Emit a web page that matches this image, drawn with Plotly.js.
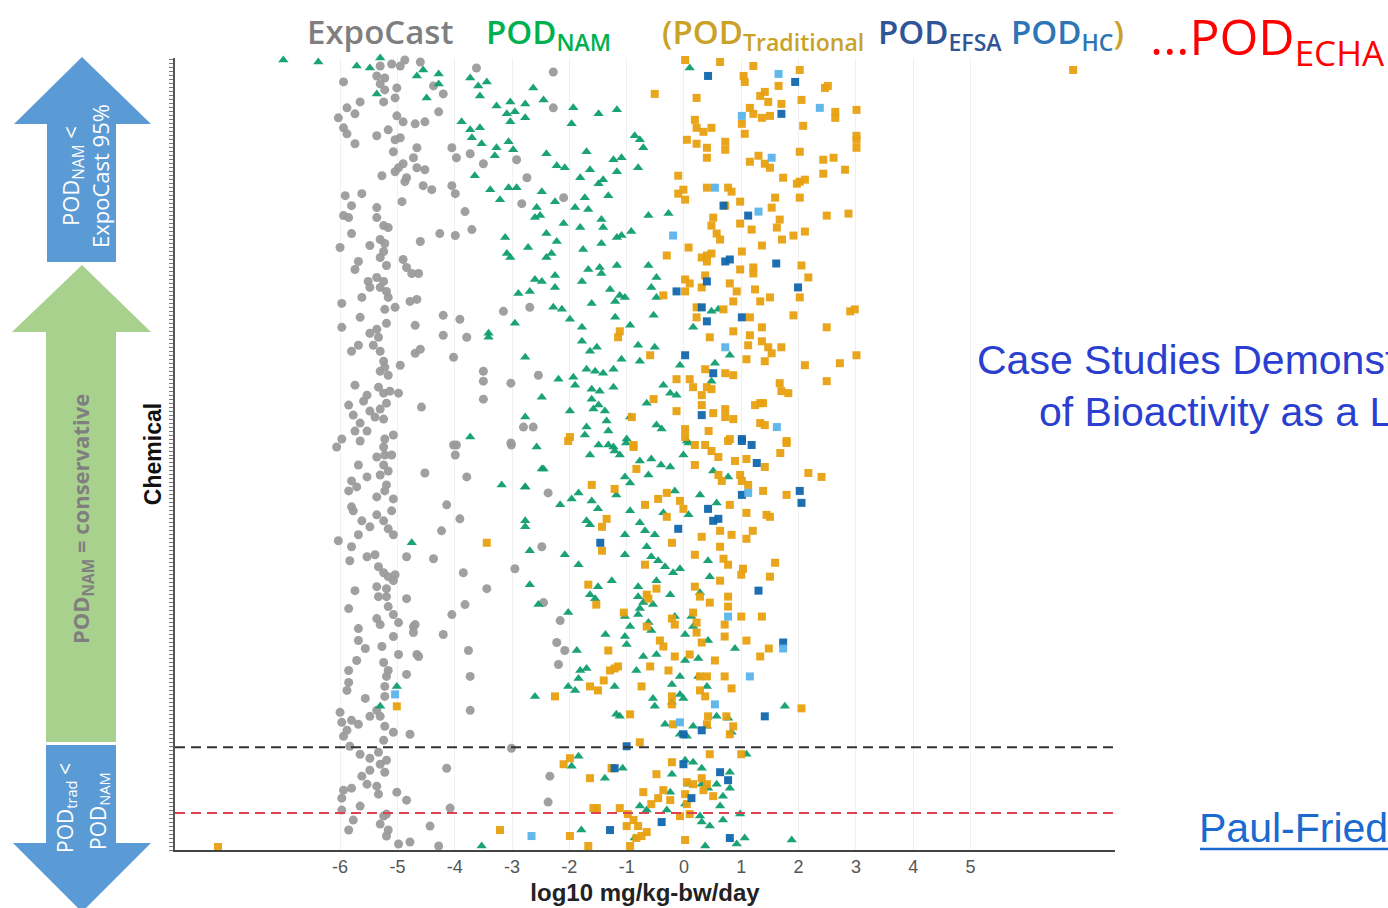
<!DOCTYPE html>
<html><head><meta charset="utf-8">
<script src="https://cdn.plot.ly/plotly-3.0.1.min.js"></script>
<style>html,body{margin:0;padding:0;background:#fff;overflow:hidden}</style>
</head><body><div id="chart" style="width:1388px;height:908px"></div>
<script>
// ---- data: [log10 mg/kg-bw/day, chemical rank] ----
const xTickVals = [-6,-5,-4,-3,-2,-1,0,1,2,3,4,5];
const xTickText = ['-6','-5','-4','-3','-2','-1','0','1','2','3','4','5'];
const dashBlackRank = 51.5;
const dashRedRank = 18.5;

const expoCast = [
[-5.30,393],[-5.10,394],[-4.95,393],[-4.87,396],[-4.60,395],[-3.62,392],[-2.28,390],[-5.94,385],[-5.36,388],[-5.22,387],[-5.30,384],[-5.01,382],[-4.37,383],[-4.20,379],[-5.22,381],[-5.04,377],[-5.24,375],[-5.65,375],[-5.88,372],[-5.74,369],[-6.03,367],[-5.01,368],[-4.90,365],[-4.69,364],[-4.52,365],[-4.28,370],[-5.94,362],[-5.88,359],[-5.36,358],[-5.16,361],[-5.04,356],[-4.95,357],[-5.74,354],[-4.66,352],[-4.05,352],[-3.97,347],[-3.73,349],[-3.50,344],[-2.92,346],[-5.07,350],[-4.72,347],[-4.90,344],[-4.98,342],[-5.27,338],[-5.04,340],[-4.84,337],[-4.66,342],[-4.52,341],[-4.87,335],[-4.55,333],[-4.40,331],[-4.05,333],[-3.99,329],[-2.74,337],[-2.28,372],[-2.10,327],[-2.83,324],[-5.91,328],[-5.80,323],[-5.62,329],[-5.36,322],[-4.92,325],[-5.94,318],[-5.85,317],[-5.36,317],[-5.24,313],[-5.16,312],[-3.82,320],[-4.26,309],[-3.99,308],[-3.70,311],[-4.60,305],[-5.80,309],[-6.00,302],[-5.48,303],[-5.30,306],[-5.22,304],[-5.24,300],[-5.30,297],[-5.19,293],[-5.68,295],[-5.74,291],[-4.90,296],[-4.84,292],[-4.75,289],[-4.63,289],[-5.51,285],[-5.36,287],[-5.24,285],[-5.30,282],[-5.19,280],[-5.16,277],[-5.48,282],[-5.62,277],[-5.97,274],[-5.04,272],[-5.22,271],[-4.78,275],[-4.66,276],[-4.20,268],[-3.91,266],[-3.15,270],[-2.69,272],[-5.65,267],[-5.97,262],[-5.36,261],[-5.19,264],[-5.48,259],[-5.33,257],[-4.69,263],[-4.20,258],[-3.79,257],[-5.68,253],[-5.80,250],[-5.42,253],[-5.30,250],[-4.69,249],[-4.60,251],[-5.24,245],[-5.30,240],[-5.22,242],[-5.16,238],[-4.95,243],[-4.02,247],[-3.50,240],[-3.50,235],[-3.02,234],[-2.54,238],[-5.74,233],[-5.33,232],[-5.53,228],[-5.24,229],[-5.13,230],[-4.98,229],[-5.85,223],[-5.59,225],[-5.19,224],[-4.58,222],[-3.50,226],[-5.77,218],[-5.48,220],[-5.30,221],[-5.39,217],[-5.24,216],[-5.65,214],[-5.53,210],[-5.74,210],[-5.97,206],[-5.65,205],[-5.22,206],[-5.07,208],[-3.97,203],[-3.02,204],[-2.80,212],[-2.63,212],[-6.06,202],[-5.24,202],
[-5.36,197],[-5.22,198],[-5.10,198],[-5.24,193],[-5.16,190],[-5.30,188],[-5.68,193],[-5.53,187],[-5.80,185],[-5.85,180],[-5.71,182],[-5.19,183],[-5.36,177],[-5.22,180],[-5.07,176],[-5.80,172],[-5.77,170],[-5.62,165],[-5.48,162],[-5.36,168],[-5.24,165],[-5.10,170],[-5.16,161],[-5.07,158],[-5.68,158],[-5.80,152],[-6.03,155],[-5.53,147],[-5.39,148],[-5.83,145],[-5.33,142],[-5.24,139],[-5.16,137],[-5.07,135],[-5.36,132],[-5.19,131],[-5.04,138],[-5.74,130],[-5.33,127],[-5.19,127],[-4.84,126],[-5.85,121],[-5.16,122],[-5.07,118],[-5.36,116],[-5.30,113],[-4.98,114],[-4.69,113],[-5.68,111],[-5.68,105],[-5.56,101],[-5.27,102],[-5.07,107],[-4.98,98],[-4.72,109],[-4.63,97],[-5.71,95],[-5.85,90],[-5.85,84],[-5.88,80],[-5.24,94],[-5.16,90],[-5.19,87],[-5.22,82],[-5.22,77],[-5.56,76],[-5.48,67],[-5.36,70],[-5.30,67],[-6.00,69],[-5.97,64],[-5.80,65],[-5.68,63],[-5.88,60],[-5.94,57],[-5.22,62],[-5.07,59],[-4.78,58],[-5.24,55],[-5.83,52],[-5.33,49],[-5.48,46],[-5.19,45],[-5.65,48],[-5.30,43],[-5.48,40],[-5.22,39],[-5.62,37],[-5.53,33],[-5.36,32],[-5.94,30],[-5.80,31],[-5.33,28],[-5.97,26],[-5.01,29],[-4.84,25],[-5.65,22],[-5.97,20],[-5.19,18],[-5.24,17],[-5.77,15],[-5.30,13],[-5.85,10],[-5.16,10],[-5.19,7],[-4.98,3],[-4.78,4],[-4.43,12],[-4.08,21],[-4.28,2],[-4.52,189],[-3.99,198],[-4.02,203],[-3.01,203],[-3.79,187],[-4.14,173],[-3.91,166],[-4.23,160],[-4.37,146],[-3.85,139],[-2.95,141],[-3.44,131],[-3.82,123],[-4.05,118],[-4.20,108],[-3.76,100],[-3.73,87],[-3.73,70],[-3.01,51],[-4.14,41],[-2.37,179],[-2.48,152],[-2.16,115],[-2.22,104],[-2.08,100],[-2.19,93],[-2.45,124],[-2.34,37],[-2.37,24],[-4.84,147],[-4.84,88],[-4.66,98],[-4.72,112]
];

const podNAM = [
[-6.99,396],[-6.38,395],[-5.71,393],[-5.48,392],[-5.30,397],
[-4.66,388],[-4.55,391],[-4.28,389],[-3.73,387],[-3.59,383],[-3.44,385],[-3.56,378],[-5.36,379],[-4.49,377],[-4.28,384],[-2.63,382],[-2.45,376],[-3.27,373],[-3.03,375],[-2.77,374],[-3.09,369],[-2.95,370],[-3.03,365],[-2.77,367],[-1.93,372],[-1.49,369],[-1.17,371],[-1.96,364],[-3.88,365],[-3.73,361],[-3.56,362],[-3.70,357],[-3.53,354],[-3.06,355],[-3.27,352],[-2.98,351],[-3.30,348],[-2.40,349],[-2.22,343],[-2.08,342],[-1.70,350],[-1.23,346],[-1.17,340],[-1.64,341],[-1.81,337],[-1.49,334],[-1.41,336],[-3.65,338],[-3.38,331],[-3.21,326],[-3.06,332],[-2.92,332],[-2.48,330],[-2.25,325],[-2.57,322],[-2.51,318],[-2.60,317],[-1.90,322],[-1.73,327],[-1.32,328],[-1.67,321],[-1.44,316],[-1.41,312],[-1.81,312],[-2.10,314],[-2.40,309],[-3.12,307],[-2.72,302],[-3.09,299],[-3.03,297],[-2.40,297],[-2.31,299],[-2.22,305],[-1.76,301],[-1.44,304],[-1.17,307],[-2.25,288],[-2.60,286],[-2.48,285],[-2.25,282],[-2.89,279],[-2.69,280],[-1.78,285],[-1.67,291],[-1.47,292],[-1.44,289],[-1.17,293],[-1.29,281],[-2.28,272],[-2.13,271],[-1.99,266],[-1.78,262],[-1.61,274],[-1.20,275],[-1.20,267],[-2.95,264],[-3.41,259],[-3.41,257],[-1.78,255],[-1.64,250],[-1.52,252],[-2.77,247],[-2.19,236],[-1.93,237],[-1.90,233],[-1.70,241],[-1.55,240],[-1.41,239],[-1.23,241],[-1.61,231],[-1.47,230],[-1.23,232],[-2.48,227],[-1.61,226],[-1.49,223],[-1.38,220],[-1.99,220],[-1.58,221],[-1.35,215],[-2.77,217],[-1.70,212],[-1.73,208],[-1.32,210],[-3.73,207],[-2.57,202],[-1.49,203],[-1.23,202],
[0.10,392],[-0.86,358],[-0.77,356],[-0.71,352],[-1.09,347],[-0.80,342],[-0.62,318],[-0.27,319],[-1.09,308],[-0.92,310],[-0.62,293],[-0.48,287],[-0.57,282],[-1.12,278],[-1.03,277],[-0.48,277],[-0.53,268],[-0.94,263],[0.48,270],[0.60,271],[0.16,262],[-0.80,253],[-0.51,252],[-1.09,246],[-0.77,245],[0.80,248],[0.54,244],[-0.07,243],[-0.36,233],[-0.24,229],[-0.13,228],[0.48,235],[-0.65,224],[-0.94,217],[-1.00,206],[-0.48,213],[-0.39,211],[0.05,205],
[-2.48,191],[-2.77,182],[-2.77,165],[-2.77,162],[-2.69,150],[-2.69,133],[-2.16,173],[-1.96,176],[-1.84,179],[-1.64,198],[-1.32,203],[-1.21,200],[-1.12,198],[-1.01,204],[-0.77,195],[-0.62,188],[-0.57,196],[-0.40,193],[-0.24,192],[-0.01,198],[0.08,204],[0.51,190],[0.77,187],[-1.03,187],[-0.94,184],[-1.18,178],[-1.61,175],[-1.50,171],[-1.70,165],[-1.64,163],[-0.94,170],[-0.77,164],[-0.68,160],[-0.51,158],[-0.36,169],[-0.16,180],[0.08,168],[0.28,178],[0.57,174],[-1.03,158],[-2.08,148],[-1.84,143],[-1.03,148],[-0.65,152],[-0.57,147],[-0.45,145],[-0.33,142],[-0.19,139],[-0.07,141],[-1.26,135],[-0.80,132],[-0.48,135],[0.42,145],[0.45,137],[-1.50,132],[-1.64,128],[-1.55,126],[-2.02,119],[-1.37,108],[-1.03,117],[-0.80,127],[-0.77,121],[-0.80,118],[-0.62,114],[-0.57,110],[-1.03,107],[-1.00,103],[-0.94,112],[-0.71,124],[-0.54,123],[-0.24,128],[-0.16,117],[0.13,117],[0.02,108],[0.42,105],[0.16,112],[0.28,129],[-1.87,100],[-1.81,90],[-1.70,91],[-1.84,86],[-2.02,82],[-1.90,80],[-1.21,82],[-0.83,90],[-0.71,97],[-0.48,98],[-0.21,83],[-0.07,87],[0.02,95],[0.25,96],[0.25,87],[0.40,82],[-0.07,78],[-0.01,76],[-0.21,74],[-0.54,76],[-0.51,72],[-1.18,68],[-1.12,67],[-0.33,63],[-0.07,58],[0.05,57],[0.16,62],[0.40,62],[0.77,66],[0.83,59],[0.89,101],[0.57,67],[1.09,48],[-1.96,42],[-1.84,47],[-1.07,41],[-1.38,36],[-0.21,38],[0.02,45],[0.16,44],[0.31,41],[0.08,33],[0.31,33],[0.42,31],[0.57,33],[0.80,39],[0.80,31],[0.68,27],[-0.77,22],[-0.65,20],[-0.30,20],[-0.24,29],[0.02,23],[0.28,17],[0.31,14],[0.45,12],[0.63,22],[0.68,15],[0.98,18],[0.92,3],[1.06,6],[-1.79,10],[-0.86,6],[0.37,2],[1.88,5],[1.76,72],
[-4.75,154],[-5.01,82],[-5.30,72],[-3.18,183],[-2.77,182],[-2.45,191],[-2.60,77],[-3.53,2],[-2.54,123]
];

const podTraditional = [
[0.02,396],[0.63,395],[1.21,393],[2.02,391],[1.04,388],[1.06,385],[1.65,383],[-0.51,379],[0.22,377],[1.41,380],[1.33,378],[1.47,375],[1.70,374],[2.05,376],[2.46,382],[2.51,383],[1.15,372],[1.21,369],[1.36,367],[1.50,368],[2.64,370],[2.64,367],[3.01,371],[3.01,358],[3.01,356],[3.01,352],[0.19,366],[0.22,362],[0.34,360],[0.48,362],[1.01,364],[1.06,359],[2.08,363],[0.05,356],[0.22,354],[0.40,352],[0.40,347],[0.72,355],[0.72,351],[2.02,350],[1.15,345],[1.30,348],[1.41,344],[1.50,342],[2.43,346],[2.61,347],[2.43,339],[2.81,341],[-0.10,338],[1.73,337],[1.97,334],[2.02,335],[2.11,336],[-0.10,329],[-0.01,331],[0.02,326],[0.40,332],[0.77,332],[0.83,330],[0.98,325],[1.59,327],[2.02,327],[0.72,323],[1.53,322],[1.67,316],[0.51,317],[0.48,313],[0.57,309],[0.63,306],[0.98,314],[1.18,311],[1.62,312],[1.71,306],[1.91,308],[2.11,310],[2.49,318],[2.87,319],[0.08,302],[-0.30,298],[0.31,297],[0.40,298],[0.48,299],[0.40,295],[1.01,300],[1.36,303],[0.98,291],[1.21,289],[1.21,292],[2.05,293],[2.17,287],[0.02,286],[0.10,284],[0.37,288],[0.80,284],[0.31,282],[-0.36,278],[0.02,280],[0.92,280],[1.24,281],[1.33,275],[1.50,277],[2.02,277],[0.22,272],[0.22,267],[0.69,271],[0.86,275],[1.15,267],[1.36,262],[0.45,257],[0.86,260],[1.15,258],[1.12,253],[1.36,255],[1.47,252],[1.53,249],[1.70,252],[1.91,268],[2.49,262],[2.90,270],[2.98,271],[-1.12,260],[-1.15,257],[-0.59,248],[1.09,246],[1.41,245],[2.11,243],[2.72,244],[3.01,248],[0.72,239],[0.86,238],[0.37,241],[0.10,236],[0.16,232],[-0.13,236],[0.40,232],[0.48,231],[2.49,235],[1.67,234],[1.70,230],[1.82,229],[0.31,228],[0.31,223],[-0.53,226],[-0.13,220],[0.51,219],[0.72,221],[0.72,217],[1.24,223],[1.33,224],[1.38,224],[0.86,216],[1.33,214],[1.41,213],[-0.91,217],[0.02,211],[0.02,207],[0.43,210],[0.80,206],[1.79,205],[-1.99,207],[-0.88,203],
[-2.02,205],[-0.88,202],[0.19,203],[0.37,203],[0.48,200],[0.60,197],[0.77,205],[0.89,195],[1.09,196],[1.41,192],[1.68,199],[1.79,204],[2.17,189],[2.40,187],[-0.83,191],[0.19,193],[0.60,188],[0.66,185],[0.98,188],[1.01,185],[1.12,183],[-1.61,183],[-1.21,181],[-0.45,176],[-0.30,179],[-0.07,175],[-0.01,171],[-0.68,173],[1.38,180],[1.79,178],[0.80,173],[1.09,169],[1.44,168],[1.50,167],[-1.35,166],[-1.43,162],[-1.43,150],[-0.30,167],[-0.21,154],[0.31,157],[0.63,160],[0.83,158],[1.09,156],[1.20,160],[0.19,148],[0.63,152],[0.69,146],[0.77,143],[1.03,141],[1.00,138],[1.59,144],[1.50,137],[-0.68,143],[-1.67,133],[-1.53,123],[-0.65,128],[-0.62,126],[-0.48,131],[0.19,132],[0.28,127],[0.45,124],[0.63,135],[0.77,127],[0.77,122],[1.00,117],[1.36,117],[-1.05,119],[-0.65,112],[-0.21,116],[-0.16,113],[0.16,119],[0.22,114],[0.22,109],[0.31,104],[0.71,113],[0.71,107],[1.09,105],[1.33,97],[1.48,101],[-1.32,100],[-1.29,90],[-1.21,91],[-1.15,92],[-1.40,85],[-1.64,82],[-1.50,80],[-2.25,77],[-0.74,82],[-0.59,92],[-0.42,105],[-0.36,102],[-0.16,97],[-0.27,90],[0.10,98],[0.28,87],[0.40,87],[0.28,80],[0.37,77],[0.54,95],[0.71,87],[0.83,81],[-0.21,77],[-0.21,73],[-0.94,68],[2.05,71],[0.42,67],[0.74,67],[0.86,62],[0.80,58],[0.40,63],[-0.19,63],[-0.77,54],[-2.10,43],[-1.99,46],[-1.26,41],[-1.64,36],[-0.48,38],[-0.21,44],[0.45,48],[1.00,48],[0.05,34],[0.16,33],[0.31,36],[0.34,30],[0.40,33],[0.51,27],[-0.71,29],[-0.57,23],[-0.45,26],[-0.36,30],[-0.24,25],[0.02,28],[0.05,23],[0.10,18],[-1.52,21],[-1.12,21],[-0.98,18],[-0.88,15],[-1.00,12],[-0.80,12],[-0.65,9],[-0.83,6],[-0.74,7],[-0.94,2],[-1.67,2],[-1.99,7],[0.02,5],[-0.07,17],
[-3.44,154],[-5.01,72],[-3.21,10],[-8.13,1.5],[6.79,391],[-1.58,21],[-1.26,41]
];

const podEFSA = [
[0.42,388],[1.94,385],[1.70,369],[0.69,323],[1.12,318],[0.72,295],[0.80,296],[1.61,294],[0.40,285],[-0.13,280],[1.99,282],[0.31,272],[0.40,265],[1.01,267],[0.02,248],[0.51,239],[0.31,218],[1.01,206],[1.18,203],
[1.01,205],[1.27,194],[1.01,178],[2.02,180],[2.05,174],[0.42,171],[0.51,165],[0.60,166],[-0.10,161],[-1.46,154],[1.30,130],[1.73,104],[1.41,67],[0.31,60],[-0.01,58],[-1.00,52],[-1.21,41],[-0.01,43],[0.63,39],[0.77,35],[0.13,26],[-0.39,14],[-1.29,10],[0.80,6]
];

const podHC = [
[1.65,389],[1.01,368],[1.53,347],[2.37,372],[0.54,332],[1.30,320],[-0.19,308],[0.72,252],[1.62,212],[1.12,179],[0.77,117],[1.73,101],[1.15,87],[0.54,73],[-0.07,64],[-2.66,7],[-5.04,78]
];

// ---- layout geometry ----
const W = 1388, H = 908;
const M = {l:175, r:273, t:58, b:58};
const PW = W - M.l - M.r, PH = H - M.t - M.b;
const fx = px => (px - M.l) / PW;
const fy = py => (H - M.b - py) / PH;

function series(name, pts, symbol, color, size) {
  return {type:'scatter', mode:'markers', name:name,
    x: pts.map(p => p[0]), y: pts.map(p => p[1]),
    marker:{symbol:symbol, color:color, size:size, opacity:0.95, line:{width:0}},
    cliponaxis:false, hoverinfo:'skip', showlegend:false};
}

const traces = [
  series('ExpoCast', expoCast, 'circle', '#9b9b9b', 9),
  series('POD NAM', podNAM, 'triangle-up', '#0f9d6f', 9),
  series('POD Traditional', podTraditional, 'square', '#e8a010', 8),
  series('POD EFSA', podEFSA, 'square', '#1167ad', 8),
  series('POD HC', podHC, 'square', '#5ab4ea', 8)
];

function arrowPath(pts) {
  return 'M' + pts.map(p => fx(p[0]).toFixed(5) + ',' + fy(p[1]).toFixed(5)).join(' L') + ' Z';
}
const arrowShape = (pts, color) => ({type:'path', xref:'paper', yref:'paper', path: arrowPath(pts),
  fillcolor: color, line:{width:0}, layer:'above'});

const shapes = [
  arrowShape([[82,57],[151,124],[116,124],[116,262],[47,262],[47,124],[14,124]], '#5b9bd5'),
  arrowShape([[82,265],[151,332],[116,332],[116,742],[46,742],[46,332],[12,332]], '#a9d18e'),
  arrowShape([[46,745],[116,745],[116,843],[151,843],[82,912],[13,843],[46,843]], '#5b9bd5'),
  {type:'line', xref:'paper', x0:0, x1:1, yref:'y', y0:dashBlackRank, y1:dashBlackRank,
   line:{color:'#333333', width:2, dash:'10px,6px'}, layer:'above'},
  {type:'line', xref:'paper', x0:0, x1:1, yref:'y', y0:dashRedRank, y1:dashRedRank,
   line:{color:'#e0434f', width:2, dash:'10px,6px'}, layer:'above'},
  {type:'line', xref:'paper', yref:'paper', x0:fx(1200), x1:fx(1400), y0:fy(849), y1:fy(849),
   line:{color:'#1a6ad0', width:2.5}}
];

const hdrFont = (color, size, weight) => ({family:'Open Sans, sans-serif', size:size, color:color, weight:weight});
const hdr = (text, px, color) => ({text:text, xref:'paper', yref:'paper', x:fx(px), y:fy(7),
  xanchor:'left', yanchor:'top', showarrow:false, font:hdrFont(color, 33, 600)});
const rot = (text, px, py, color, size, weight) => ({text:text, xref:'paper', yref:'paper', x:fx(px), y:fy(py),
  xanchor:'center', yanchor:'middle', showarrow:false, textangle:-90,
  font:{family:'Open Sans, sans-serif', size:size, color:color, weight:weight}});
const slide = (text, px, py, color) => ({text:text, xref:'paper', yref:'paper', x:fx(px), y:fy(py),
  xanchor:'left', yanchor:'middle', showarrow:false,
  font:{family:'Liberation Sans, Arial, sans-serif', size:41, color:color}});

const annotations = [
  hdr('ExpoCast', 305, '#7f7f7f'),
  hdr('POD<sub>NAM</sub>', 484, '#00b050'),
  hdr('(POD<sub>Traditional</sub>', 660, '#c9a227'),
  hdr('POD<sub>EFSA</sub>', 876, '#2f5597'),
  hdr('POD<sub>HC</sub><span style="color:#c9a227">)</span>', 1009, '#2e75b6'),
  {text:'...POD<sub>ECHA</sub>', xref:'paper', yref:'paper', x:fx(1148), y:fy(0), xanchor:'left', yanchor:'top',
   showarrow:false, font:hdrFont('#ff0000', 50, 400)},
  rot('POD<sub>NAM</sub> &lt;', 72, 176, '#ffffff', 22, 400),
  rot('ExpoCast 95%', 100, 176, '#ffffff', 22, 400),
  rot('POD<sub>NAM</sub> = conservative', 82, 519, '#7f7f7f', 22, 700),
  rot('POD<sub>trad</sub> &lt;', 66, 808, '#ffffff', 21, 400),
  rot('POD<sub>NAM</sub>', 99, 811, '#ffffff', 21, 400),
  slide('Case Studies Demonstrating Utility', 975, 360, '#2a3fcf'),
  slide('of Bioactivity as a Lower Bound', 1037, 412, '#2a3fcf'),
  slide('Paul-Friedman et al. (2020)', 1197, 828, '#1a6ad0')
];

const layout = {
  width:W, height:H, margin:M, paper_bgcolor:'#ffffff', plot_bgcolor:'#ffffff', showlegend:false,
  font:{family:'Liberation Sans, Arial, sans-serif', color:'#333'},
  xaxis:{range:[-8.88,7.52], tickvals:xTickVals, ticktext:xTickText, ticks:'', showgrid:true,
    gridcolor:'#f0f0f0', gridwidth:1, zeroline:false, showline:true, linecolor:'#444', linewidth:1.5,
    tickfont:{size:18, color:'#555'}, automargin:false, fixedrange:true,
    title:{text:'<b>log10 mg/kg-bw/day</b>', font:{size:24, color:'#222'}, standoff:8}},
  yaxis:{range:[0,397], showticklabels:false, ticks:'outside', ticklen:4, tickcolor:'#777', tickwidth:1,
    tick0:0, dtick:2, showgrid:false, zeroline:false, showline:true, linecolor:'#555', linewidth:2,
    automargin:false, fixedrange:true,
    title:{text:'<b>Chemical</b>', font:{size:23, color:'#111'}, standoff:1}},
  shapes:shapes, annotations:annotations
};

Plotly.newPlot('chart', traces, layout, {displayModeBar:false, staticPlot:true});
</script></body></html>
